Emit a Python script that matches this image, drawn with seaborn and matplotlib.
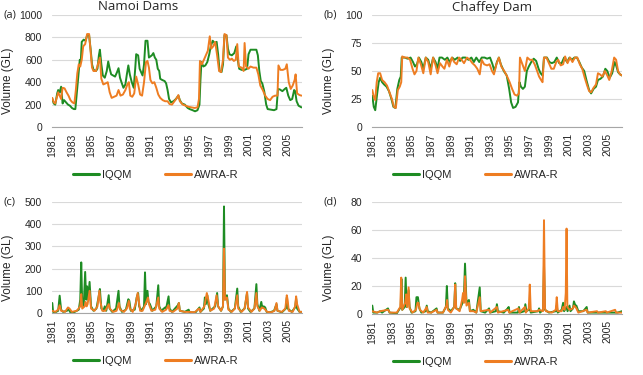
import pandas as pd
import seaborn as sns
import matplotlib.pyplot as plt

# (year, volume GL)
namoi_store_iqqm = [
    (1981.0, 250), (1981.15, 210), (1981.3, 200), (1981.5, 300), (1981.6, 330), (1981.75, 310), (1981.9, 360),
    (1982.05, 210), (1982.2, 240), (1982.4, 220), (1982.6, 200), (1982.8, 190), (1983.0, 170), (1983.2, 160),
    (1983.35, 160), (1983.5, 300), (1983.65, 450), (1983.8, 600), (1983.9, 580), (1984.0, 760), (1984.2, 780),
    (1984.4, 770), (1984.55, 820), (1984.75, 820), (1984.9, 700), (1985.05, 560), (1985.2, 510), (1985.45, 500),
    (1985.6, 520), (1985.75, 640), (1985.85, 690), (1986.0, 560), (1986.15, 460), (1986.35, 440), (1986.55, 500),
    (1986.7, 585), (1986.85, 520), (1987.0, 470), (1987.2, 460), (1987.4, 450), (1987.6, 490), (1987.75, 525),
    (1987.9, 440), (1988.05, 400), (1988.25, 350), (1988.45, 380), (1988.6, 470), (1988.75, 550), (1988.9, 470),
    (1989.1, 400), (1989.3, 350), (1989.45, 520), (1989.55, 650), (1989.75, 640), (1989.9, 520), (1990.05, 490),
    (1990.2, 460), (1990.35, 560), (1990.5, 770), (1990.7, 770), (1990.85, 620), (1991.0, 630), (1991.15, 640),
    (1991.3, 660), (1991.45, 620), (1991.6, 600), (1991.75, 520), (1991.9, 500), (1992.0, 430), (1992.2, 420),
    (1992.45, 410), (1992.6, 390), (1992.75, 330), (1992.9, 250), (1993.1, 220), (1993.35, 230), (1993.6, 250),
    (1993.85, 280), (1994.0, 240), (1994.2, 210), (1994.5, 200), (1994.8, 170), (1995.0, 160), (1995.3, 150),
    (1995.55, 140), (1995.8, 150), (1996.0, 200), (1996.1, 420), (1996.2, 580), (1996.4, 540), (1996.6, 550),
    (1996.8, 580), (1997.0, 650), (1997.15, 720), (1997.35, 770), (1997.55, 750), (1997.75, 760), (1997.9, 650),
    (1998.05, 500), (1998.25, 490), (1998.4, 560), (1998.55, 820), (1998.75, 820), (1998.9, 700), (1999.05, 650),
    (1999.3, 640), (1999.55, 660), (1999.75, 720), (1999.9, 600), (2000.05, 520), (2000.3, 510), (2000.6, 510),
    (2000.85, 520), (2001.0, 650), (2001.2, 690), (2001.5, 690), (2001.8, 690), (2001.95, 640), (2002.1, 500),
    (2002.25, 410), (2002.4, 390), (2002.6, 320), (2002.8, 200), (2002.95, 160), (2003.3, 155), (2003.6, 150),
    (2003.85, 160), (2004.0, 340), (2004.2, 335), (2004.45, 320), (2004.7, 340), (2004.85, 350), (2005.05, 280),
    (2005.25, 240), (2005.45, 250), (2005.65, 330), (2005.75, 320), (2005.9, 230), (2006.1, 190), (2006.4, 175),
]
namoi_store_awra = [
    (1981.0, 260), (1981.15, 220), (1981.3, 210), (1981.45, 260), (1981.6, 310), (1981.75, 280), (1981.9, 250),
    (1982.05, 350), (1982.25, 345), (1982.45, 310), (1982.65, 280), (1982.85, 240), (1983.05, 220), (1983.25, 210),
    (1983.4, 330), (1983.55, 480), (1983.7, 560), (1983.85, 540), (1984.0, 600), (1984.15, 720), (1984.35, 740),
    (1984.55, 830), (1984.75, 830), (1984.9, 680), (1985.05, 530), (1985.2, 500), (1985.45, 500), (1985.65, 560),
    (1985.85, 620), (1986.0, 430), (1986.2, 380), (1986.45, 390), (1986.65, 400), (1986.85, 310), (1987.05, 260),
    (1987.3, 270), (1987.55, 280), (1987.75, 330), (1987.95, 280), (1988.2, 290), (1988.45, 330), (1988.65, 380),
    (1988.8, 400), (1988.95, 280), (1989.15, 270), (1989.35, 300), (1989.55, 450), (1989.75, 380), (1989.95, 290),
    (1990.15, 280), (1990.35, 400), (1990.55, 580), (1990.7, 590), (1990.85, 530), (1991.0, 420), (1991.2, 390),
    (1991.4, 400), (1991.6, 350), (1991.8, 290), (1992.0, 260), (1992.25, 240), (1992.5, 230), (1992.75, 230),
    (1992.95, 205), (1993.2, 200), (1993.45, 230), (1993.7, 260), (1993.85, 285), (1994.0, 230), (1994.3, 200),
    (1994.6, 190), (1994.9, 180), (1995.2, 175), (1995.5, 170), (1995.8, 175), (1995.95, 250), (1996.05, 590),
    (1996.25, 560), (1996.45, 600), (1996.65, 640), (1996.85, 680), (1997.05, 810), (1997.2, 700), (1997.4, 720),
    (1997.6, 760), (1997.8, 640), (1998.0, 500), (1998.2, 490), (1998.4, 600), (1998.55, 830), (1998.75, 820),
    (1998.9, 620), (1999.1, 600), (1999.3, 610), (1999.5, 590), (1999.7, 600), (1999.85, 740), (2000.0, 540),
    (2000.3, 530), (2000.5, 500), (2000.6, 750), (2000.75, 540), (2001.0, 520), (2001.2, 540), (2001.5, 530),
    (2001.8, 530), (2002.0, 470), (2002.2, 370), (2002.45, 330), (2002.7, 280), (2002.95, 250), (2003.2, 240),
    (2003.45, 270), (2003.7, 280), (2003.95, 280), (2004.05, 550), (2004.25, 510), (2004.5, 510), (2004.75, 520),
    (2004.9, 560), (2005.1, 400), (2005.3, 340), (2005.5, 370), (2005.7, 420), (2005.8, 470), (2005.95, 300),
    (2006.2, 285), (2006.4, 280),
]
chaffey_store_iqqm = [
    (1981.0, 28), (1981.15, 18), (1981.3, 15), (1981.5, 30), (1981.65, 40), (1981.8, 44), (1982.0, 40),
    (1982.2, 38), (1982.45, 36), (1982.7, 32), (1982.95, 25), (1983.15, 18), (1983.35, 17), (1983.55, 34),
    (1983.75, 42), (1983.9, 45), (1984.0, 62), (1984.3, 62), (1984.6, 61), (1984.9, 62), (1985.15, 58),
    (1985.35, 54), (1985.55, 56), (1985.75, 62), (1986.0, 58), (1986.2, 52), (1986.45, 62), (1986.7, 60),
    (1986.95, 52), (1987.2, 62), (1987.45, 58), (1987.65, 52), (1987.85, 62), (1988.1, 62), (1988.4, 60),
    (1988.65, 62), (1988.9, 58), (1989.15, 62), (1989.4, 60), (1989.7, 62), (1989.95, 59), (1990.2, 62),
    (1990.5, 62), (1990.8, 60), (1991.1, 62), (1991.35, 58), (1991.6, 62), (1991.9, 58), (1992.15, 62),
    (1992.45, 62), (1992.7, 61), (1993.0, 62), (1993.25, 56), (1993.45, 50), (1993.7, 58), (1993.9, 62),
    (1994.1, 56), (1994.4, 50), (1994.7, 46), (1994.95, 34), (1995.15, 22), (1995.35, 17), (1995.6, 18),
    (1995.85, 22), (1996.0, 40), (1996.15, 36), (1996.35, 34), (1996.55, 36), (1996.75, 50), (1996.95, 54),
    (1997.2, 58), (1997.45, 61), (1997.7, 59), (1997.95, 52), (1998.15, 48), (1998.35, 46), (1998.5, 62),
    (1998.8, 62), (1999.05, 58), (1999.3, 57), (1999.55, 58), (1999.8, 62), (2000.05, 57), (2000.3, 57),
    (2000.55, 62), (2000.85, 58), (2001.1, 62), (2001.35, 60), (2001.6, 62), (2001.85, 62), (2002.1, 58),
    (2002.35, 53), (2002.6, 50), (2002.85, 41), (2003.1, 33), (2003.3, 30), (2003.55, 34), (2003.8, 36),
    (2004.0, 42), (2004.25, 43), (2004.5, 45), (2004.75, 52), (2004.95, 50), (2005.2, 44), (2005.45, 48),
    (2005.7, 58), (2005.85, 55), (2006.05, 49), (2006.25, 47), (2006.45, 46),
]
chaffey_store_awra = [
    (1981.0, 33), (1981.15, 27), (1981.3, 24), (1981.45, 40), (1981.6, 48), (1981.8, 48), (1982.0, 42),
    (1982.25, 40), (1982.5, 37), (1982.75, 31), (1983.0, 25), (1983.2, 18), (1983.4, 17), (1983.6, 33),
    (1983.8, 36), (1983.95, 40), (1984.05, 63), (1984.3, 62), (1984.6, 62), (1984.85, 60), (1985.1, 52),
    (1985.3, 47), (1985.5, 50), (1985.7, 62), (1985.95, 56), (1986.2, 48), (1986.45, 62), (1986.7, 58),
    (1986.95, 47), (1987.2, 62), (1987.45, 55), (1987.65, 48), (1987.9, 57), (1988.15, 54), (1988.35, 52),
    (1988.6, 60), (1988.85, 54), (1989.1, 62), (1989.35, 58), (1989.6, 56), (1989.85, 62), (1990.1, 60),
    (1990.35, 57), (1990.65, 62), (1990.95, 60), (1991.2, 57), (1991.45, 55), (1991.7, 52), (1991.95, 47),
    (1992.15, 60), (1992.4, 56), (1992.7, 55), (1992.95, 56), (1993.2, 50), (1993.4, 47), (1993.65, 56),
    (1993.9, 62), (1994.15, 54), (1994.45, 50), (1994.75, 45), (1995.0, 40), (1995.25, 34), (1995.5, 29),
    (1995.75, 28), (1995.95, 30), (1996.05, 62), (1996.3, 56), (1996.55, 50), (1996.8, 62), (1997.05, 60),
    (1997.3, 60), (1997.55, 56), (1997.8, 50), (1998.0, 45), (1998.2, 42), (1998.35, 40), (1998.5, 62),
    (1998.75, 62), (1999.0, 57), (1999.25, 52), (1999.5, 52), (1999.75, 58), (1999.95, 60), (2000.2, 55),
    (2000.45, 56), (2000.65, 63), (2000.9, 57), (2001.15, 62), (2001.4, 58), (2001.65, 62), (2001.9, 62),
    (2002.15, 56), (2002.4, 52), (2002.65, 44), (2002.9, 37), (2003.1, 32), (2003.3, 31), (2003.55, 35),
    (2003.8, 38), (2004.0, 48), (2004.2, 47), (2004.45, 45), (2004.7, 50), (2004.95, 46), (2005.15, 42),
    (2005.4, 50), (2005.65, 62), (2005.85, 60), (2006.05, 50), (2006.25, 47), (2006.45, 46),
]
namoi_flow_iqqm = [
    (1981.0, 45), (1981.08, 5), (1981.3, 3), (1981.6, 10), (1981.75, 78), (1981.9, 15), (1982.1, 5), (1982.5, 10),
    (1982.65, 20), (1982.8, 5), (1983.2, 3), (1983.7, 15), (1983.85, 60), (1983.95, 228), (1984.05, 40),
    (1984.2, 30), (1984.35, 185), (1984.45, 60), (1984.55, 120), (1984.65, 60), (1984.8, 140), (1984.95, 30),
    (1985.2, 10), (1985.5, 20), (1985.75, 80), (1985.85, 108), (1986.0, 20), (1986.2, 10), (1986.35, 30),
    (1986.5, 10), (1986.75, 80), (1986.85, 20), (1987.1, 5), (1987.5, 20), (1987.75, 100), (1987.85, 30),
    (1988.1, 5), (1988.5, 15), (1988.75, 62), (1988.85, 55), (1989.0, 10), (1989.4, 15), (1989.6, 70),
    (1989.75, 90), (1989.85, 30), (1990.1, 10), (1990.35, 30), (1990.45, 183), (1990.55, 40), (1990.7, 100),
    (1990.8, 50), (1990.95, 40), (1991.2, 10), (1991.6, 30), (1991.8, 125), (1991.9, 30), (1992.1, 10),
    (1992.5, 25), (1992.6, 20), (1992.85, 75), (1992.95, 20), (1993.2, 5), (1993.8, 35), (1993.9, 45),
    (1994.0, 10), (1994.5, 5), (1994.9, 15), (1995.0, 2), (1995.6, 3), (1996.0, 25), (1996.1, 5), (1996.45, 20),
    (1996.55, 70), (1996.65, 40), (1996.8, 80), (1996.9, 40), (1997.1, 10), (1997.6, 30), (1997.8, 90),
    (1997.9, 30), (1998.2, 10), (1998.4, 30), (1998.5, 480), (1998.6, 60), (1998.8, 80), (1998.95, 20),
    (1999.2, 5), (1999.6, 20), (1999.85, 110), (1999.95, 30), (2000.2, 5), (2000.6, 20), (2000.85, 90),
    (2000.95, 20), (2001.2, 5), (2001.6, 20), (2001.8, 130), (2001.9, 40), (2002.1, 10), (2002.3, 50),
    (2002.4, 25), (2002.55, 30), (2002.7, 25), (2002.85, 5), (2003.2, 3), (2003.6, 10), (2003.85, 40),
    (2003.95, 10), (2004.4, 3), (2004.8, 20), (2004.9, 70), (2005.0, 20), (2005.4, 5), (2005.75, 25),
    (2005.85, 65), (2005.95, 20), (2006.2, 5), (2006.45, 5),
]
namoi_flow_awra = [
    (1981.0, 10), (1981.3, 5), (1981.6, 15), (1981.75, 35), (1981.9, 10), (1982.3, 5), (1982.6, 25),
    (1982.75, 20), (1983.0, 5), (1983.5, 10), (1983.85, 30), (1983.95, 85), (1984.05, 20), (1984.3, 30),
    (1984.4, 50), (1984.5, 30), (1984.6, 40), (1984.8, 100), (1984.95, 20), (1985.3, 10), (1985.6, 30),
    (1985.8, 100), (1985.9, 50), (1986.1, 10), (1986.4, 10), (1986.75, 40), (1986.85, 20), (1987.2, 5),
    (1987.55, 10), (1987.8, 45), (1987.9, 15), (1988.3, 5), (1988.6, 20), (1988.8, 55), (1988.9, 20),
    (1989.2, 5), (1989.5, 40), (1989.7, 90), (1989.8, 60), (1989.95, 10), (1990.2, 10), (1990.4, 30),
    (1990.5, 40), (1990.75, 70), (1990.85, 40), (1991.1, 10), (1991.5, 15), (1991.8, 70), (1991.9, 20),
    (1992.2, 5), (1992.6, 15), (1992.85, 35), (1992.95, 10), (1993.3, 5), (1993.75, 20), (1993.9, 45),
    (1994.0, 10), (1994.5, 5), (1995.0, 5), (1995.5, 3), (1995.95, 20), (1996.1, 5), (1996.5, 30),
    (1996.75, 90), (1996.9, 60), (1997.1, 10), (1997.5, 20), (1997.75, 80), (1997.9, 30), (1998.2, 10),
    (1998.4, 30), (1998.5, 290), (1998.6, 60), (1998.8, 70), (1998.95, 15), (1999.3, 5), (1999.6, 20),
    (1999.85, 80), (1999.95, 20), (2000.3, 5), (2000.6, 20), (2000.85, 95), (2000.95, 25), (2001.3, 5),
    (2001.6, 20), (2001.8, 90), (2001.9, 30), (2002.15, 10), (2002.35, 25), (2002.6, 20), (2002.9, 5),
    (2003.3, 3), (2003.65, 10), (2003.85, 45), (2003.95, 10), (2004.4, 5), (2004.75, 20), (2004.9, 80),
    (2004.98, 60), (2005.1, 10), (2005.5, 5), (2005.75, 30), (2005.85, 75), (2005.95, 40), (2006.2, 5),
    (2006.45, 5),
]
chaffey_flow_iqqm = [
    (1981.0, 6), (1981.1, 1), (1981.5, 1), (1981.8, 2), (1982.0, 1), (1982.6, 4), (1982.75, 1), (1983.5, 0.5),
    (1983.9, 5), (1983.97, 25), (1984.05, 3), (1984.3, 5), (1984.4, 26), (1984.5, 5), (1984.7, 17), (1984.8, 5),
    (1985.0, 1), (1985.4, 2), (1985.5, 12), (1985.65, 12), (1985.8, 4), (1986.0, 1), (1986.45, 2), (1986.55, 6),
    (1986.65, 2), (1987.0, 1), (1987.55, 4), (1987.65, 1), (1988.2, 1), (1988.5, 5), (1988.6, 20), (1988.7, 4),
    (1989.0, 2), (1989.35, 5), (1989.45, 22), (1989.55, 4), (1989.9, 3), (1990.2, 8), (1990.35, 15),
    (1990.45, 36), (1990.6, 8), (1990.85, 10), (1990.95, 2), (1991.3, 3), (1991.6, 1), (1991.95, 19),
    (1992.05, 2), (1992.5, 1), (1992.9, 4), (1993.0, 1), (1993.6, 2), (1993.7, 7), (1993.8, 2), (1994.4, 1),
    (1994.8, 4), (1994.9, 5), (1995.0, 1), (1995.85, 1), (1995.95, 5), (1996.05, 1), (1996.5, 2), (1996.6, 7),
    (1996.7, 2), (1996.95, 3), (1997.05, 5), (1997.15, 1), (1997.9, 2), (1998.0, 4), (1998.1, 1), (1998.4, 3),
    (1998.5, 35), (1998.6, 3), (1999.0, 1), (1999.7, 2), (1999.8, 6), (1999.9, 1), (2000.3, 3), (2000.45, 8),
    (2000.55, 2), (2000.8, 5), (2000.9, 2), (2001.1, 6), (2001.2, 2), (2001.45, 4), (2001.55, 9), (2001.7, 6),
    (2001.8, 6), (2002.0, 2), (2002.5, 2), (2002.85, 5), (2002.95, 1), (2003.5, 1), (2004.0, 1), (2004.5, 1),
    (2005.0, 1), (2005.5, 1), (2006.0, 1), (2006.45, 2),
]
chaffey_flow_awra = [
    (1981.0, 2), (1981.5, 1), (1981.8, 2), (1982.6, 3), (1982.8, 1), (1983.5, 1), (1983.85, 5), (1983.95, 26),
    (1984.05, 3), (1984.35, 8), (1984.45, 14), (1984.55, 5), (1984.7, 19), (1984.8, 4), (1985.1, 1),
    (1985.45, 3), (1985.6, 8), (1985.7, 8), (1985.85, 3), (1986.2, 1), (1986.55, 5), (1986.65, 1), (1987.0, 1),
    (1987.55, 3), (1987.65, 1), (1988.2, 1), (1988.55, 6), (1988.62, 10), (1988.7, 3), (1989.0, 1),
    (1989.35, 5), (1989.45, 21), (1989.55, 4), (1989.9, 2), (1990.15, 10), (1990.25, 15), (1990.35, 8),
    (1990.45, 27), (1990.6, 6), (1990.85, 8), (1990.95, 2), (1991.3, 2), (1991.6, 1), (1991.95, 12),
    (1992.05, 2), (1992.9, 3), (1993.0, 1), (1993.7, 5), (1993.8, 1), (1994.85, 3), (1994.95, 1), (1995.9, 4),
    (1996.0, 1), (1996.55, 5), (1996.65, 1), (1996.95, 4), (1997.05, 21), (1997.15, 2), (1997.9, 2),
    (1998.0, 3), (1998.4, 2), (1998.5, 67), (1998.6, 4), (1998.7, 2), (1999.3, 1), (1999.7, 3), (1999.8, 12),
    (1999.9, 2), (2000.3, 2), (2000.45, 5), (2000.6, 3), (2000.72, 15), (2000.8, 61), (2000.88, 5), (2001.1, 3),
    (2001.45, 4), (2001.55, 6), (2001.7, 5), (2001.8, 4), (2002.0, 1), (2002.85, 3), (2002.95, 1), (2003.9, 2),
    (2004.0, 1), (2004.8, 2), (2004.9, 1), (2005.75, 3), (2005.85, 1), (2006.45, 1),
]

models = ['IQQM', 'AWRA-R']
colors = {'IQQM': '#1e8c23', 'AWRA-R': '#ee7d22'}
year_ticks = list(range(1981, 2006, 2))

panels = [
    ('(a)', 'Namoi Dams', namoi_store_iqqm, namoi_store_awra, [0, 200, 400, 600, 800, 1000]),
    ('(b)', 'Chaffey Dam', chaffey_store_iqqm, chaffey_store_awra, [0, 25, 50, 75, 100]),
    ('(c)', None, namoi_flow_iqqm, namoi_flow_awra, [0, 100, 200, 300, 400, 500]),
    ('(d)', None, chaffey_flow_iqqm, chaffey_flow_awra, [0, 20, 40, 60, 80]),
]

sns.set_style('white')
plt.rcParams['font.family'] = ['Liberation Sans', 'DejaVu Sans']
txt = '#262626'

fig = plt.figure(figsize=(6.43, 3.75), dpi=100)
W, H = 643, 375
lefts = [52, 372, 52, 372]
tops = [15, 15, 202, 202]
heights = [112, 112, 111, 112]

for i, (tag, title, s1, s2, yt) in enumerate(panels):
    l, t, h = lefts[i], tops[i], heights[i]
    ax = fig.add_axes([l / W, 1 - (t + h) / H, 250 / W, h / H])
    df = pd.concat([
        pd.DataFrame(s1, columns=['year', 'volume']).assign(model='IQQM'),
        pd.DataFrame(s2, columns=['year', 'volume']).assign(model='AWRA-R'),
    ])
    sns.lineplot(data=df, x='year', y='volume', hue='model', hue_order=models, palette=colors,
                 estimator=None, sort=False, lw=1.4, ax=ax)
    ax.set_xlim(1980.97, 2006.45)
    ax.set_ylim(yt[0], yt[-1])
    ax.set_yticks(yt)
    ax.set_xticks(year_ticks)
    ax.set_xticklabels([str(y) for y in year_ticks], rotation=90)
    ax.grid(axis='y', color='#d9d9d9', lw=0.8)
    ax.set_axisbelow(True)
    for s in ['top', 'right', 'left']:
        ax.spines[s].set_visible(False)
    ax.spines['bottom'].set_color('#a6a6a6')
    ax.tick_params(axis='x', length=3, width=0.8, color='#a6a6a6', pad=1.5, labelsize=7.5, labelcolor=txt)
    ax.tick_params(axis='y', length=0, pad=7, labelsize=7.5, labelcolor=txt)
    ax.set_xlabel('')
    ax.set_ylabel('Volume (GL)', fontsize=8.5, color=txt)
    ylx = -0.152 if l == 52 else -0.148
    ax.yaxis.set_label_coords(ylx, 0.41)

    handles, labels = ax.get_legend_handles_labels()
    leg = ax.legend(handles, labels, loc='center', bbox_to_anchor=(0.416, -0.43), ncol=2,
                    frameon=False, fontsize=8, handlelength=2.3, columnspacing=3.0, handletextpad=0.3)
    for ln in leg.get_lines():
        ln.set_linewidth(2.2)

    fig.text((l - 49) / W, 1 - t / H, tag, fontsize=8, family='Open Sans',
             ha='left', va='center', color=txt)
    if title:
        tx = 138 if l == 52 else 492
        fig.text(tx / W, 1 - 7 / H, title, fontsize=9.5, family='Open Sans', ha='center', va='center', color=txt)

fig.savefig('out.png', dpi=100)
